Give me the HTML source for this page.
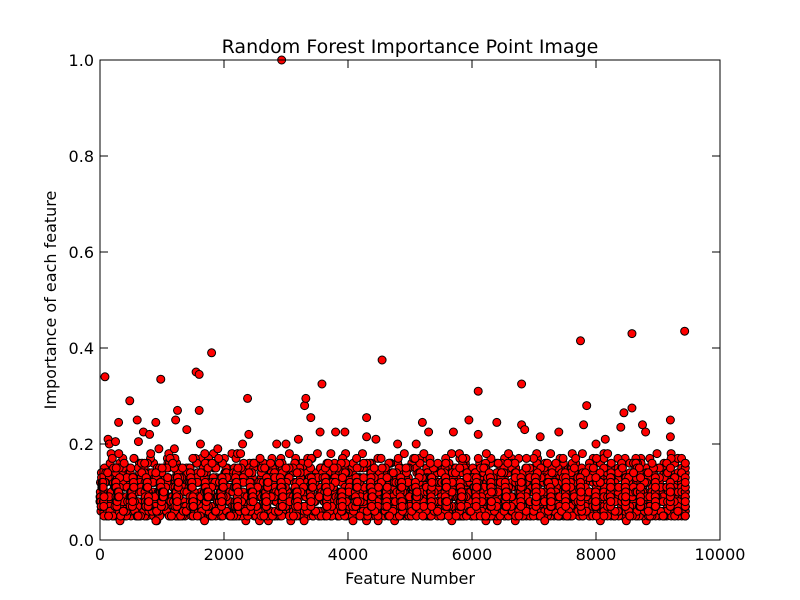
<!DOCTYPE html>
<html><head><meta charset="utf-8"><style>
body{margin:0;background:#fff;}
svg{display:block;font-family:"DejaVu Sans","Liberation Sans",sans-serif;}
</style></head><body>
<svg id="chart" width="800" height="600" xmlns="http://www.w3.org/2000/svg">
<rect x="0" y="0" width="800" height="600" fill="#fff"/>
<text x="410" y="53" text-anchor="middle" font-size="19">Random Forest Importance Point Image</text>
<g id="points"></g>
<g id="axes"></g>
<text x="410" y="584" text-anchor="middle" font-size="16">Feature Number</text>
<text transform="translate(56,300) rotate(-90)" text-anchor="middle" font-size="16">Importance of each feature</text>
</svg>
<script>
const xTicks=[0,2000,4000,6000,8000,10000];
const yTicks=[0.0,0.2,0.4,0.6,0.8,1.0];
const yTickLabels=["0.0","0.2","0.4","0.6","0.8","1.0"];
const outlierX=[80,130,150,250,300,480,600,620,700,800,900,950,980,1200,1250,1220,1400,1550,1600,1600,1620,1800,1900,2300,2380,2400,2930,2850,3000,3200,3300,3320,3400,3550,3580,3800,3950,4300,4300,4450,4550,4800,5100,5200,5300,5700,5950,6100,6100,6400,6800,6800,6850,7100,7400,7750,7800,7850,8000,8150,8400,8450,8580,8580,8750,8800,9200,9200,9430];
const outlierY=[0.34,0.21,0.2,0.205,0.245,0.29,0.25,0.205,0.225,0.22,0.245,0.19,0.335,0.19,0.27,0.25,0.23,0.35,0.345,0.27,0.2,0.39,0.19,0.2,0.295,0.22,1.0,0.2,0.2,0.21,0.28,0.295,0.255,0.225,0.325,0.225,0.225,0.255,0.215,0.21,0.375,0.2,0.2,0.245,0.225,0.225,0.25,0.31,0.22,0.245,0.325,0.24,0.23,0.215,0.225,0.415,0.24,0.28,0.2,0.21,0.235,0.265,0.43,0.275,0.24,0.225,0.25,0.215,0.435];
const bandA=[0.08,0.12,0.06,0.15,0.09,0.11,0.05,0.14,0.07,0.10,0.13,0.06,0.16,0.08,0.12,0.05,0.10,0.14,0.07,0.17,0.09,0.06,0.13,0.11,0.05,0.15,0.08,0.12,0.06,0.10,0.14,0.07,0.18,0.09,0.05,0.12,0.11,0.06,0.15,0.08,0.13,0.05,0.10,0.16,0.07,0.12,0.09,0.06,0.14,0.11,0.05,0.17,0.08,0.13,0.06,0.10,0.15,0.07,0.12,0.09,0.05,0.14,0.11,0.06,0.16,0.08,0.13,0.05,0.10,0.15,0.07,0.12,0.09,0.06,0.18,0.11,0.05,0.14,0.08,0.13,0.06,0.10,0.16,0.07,0.12,0.09,0.05,0.15,0.11,0.06,0.13,0.08,0.17,0.05,0.10,0.14,0.07,0.12,0.09,0.06,0.15,0.11,0.05,0.16,0.08,0.13,0.06,0.10,0.14,0.07,0.12,0.09,0.04,0.15,0.11,0.06,0.17,0.08,0.13,0.05,0.10,0.14,0.07,0.12,0.09,0.06,0.16,0.11,0.05,0.15,0.08,0.13,0.06,0.10,0.14,0.07,0.18,0.09,0.05,0.12,0.11,0.06,0.15,0.08,0.13,0.05,0.10,0.16,0.07,0.12,0.09,0.06,0.14,0.11,0.04,0.17,0.08,0.13,0.06,0.10,0.15,0.07,0.12,0.09,0.05,0.14];
const bandB=[0.10,0.07,0.13,0.05,0.11,0.09,0.15,0.06,0.12,0.08,0.05,0.14,0.10,0.07,0.16,0.06,0.12,0.09,0.13,0.05,0.11,0.15,0.08,0.06,0.14,0.10,0.07,0.17,0.05,0.12,0.09,0.13,0.06,0.11,0.15,0.08,0.05,0.14,0.10,0.07,0.16,0.12,0.06,0.09,0.13,0.05,0.11,0.15,0.08,0.06,0.14,0.10,0.07,0.12,0.05,0.16,0.09,0.13,0.06,0.11,0.15,0.08,0.05,0.14,0.10,0.07,0.18,0.12,0.06,0.09,0.13,0.05,0.11,0.16,0.08,0.06,0.14,0.10,0.07,0.12,0.05,0.15,0.09,0.13,0.06,0.11,0.17,0.08,0.05,0.14,0.10,0.07,0.12,0.06,0.16,0.09,0.13,0.05,0.11,0.15,0.08,0.06,0.14,0.10,0.04,0.12,0.07,0.16,0.09,0.13,0.05,0.11,0.15,0.08,0.06,0.14,0.10,0.07,0.17,0.12,0.05,0.09,0.13,0.06,0.11,0.15,0.08,0.05,0.14,0.10,0.07,0.12,0.06,0.16,0.09,0.13,0.05,0.11,0.15,0.08,0.06,0.14,0.10,0.07,0.12,0.05,0.17,0.09,0.13,0.06,0.11,0.15,0.08,0.05,0.14,0.10,0.07,0.12,0.06];
const bandCore=[0.09,0.11,0.08,0.10,0.12,0.07,0.09,0.11,0.10,0.08,0.12,0.09,0.07,0.11,0.10,0.13,0.08,0.09,0.11,0.07,0.10,0.12,0.08,0.09,0.11,0.10,0.07,0.12,0.09,0.08,0.11,0.10,0.13,0.08,0.09,0.11,0.07,0.10,0.12,0.09];
const maxFeature=9440;
const X0=100,X1=720,Y0=540,Y1=60;
function sx(v){return X0+(v/10000)*(X1-X0);}
function sy(v){return Y0-(v/1.0)*(Y0-Y1);}
const NS="http://www.w3.org/2000/svg";
const pts=document.getElementById('points');
function dot(x,y){
  const c=document.createElementNS(NS,'circle');
  c.setAttribute('cx',sx(x));c.setAttribute('cy',sy(y));c.setAttribute('r',4);
  c.setAttribute('fill','#ff0000');c.setAttribute('stroke','#000');c.setAttribute('stroke-width','1');
  
  
  pts.appendChild(c);
}
function drawBand(arr,offset,shift){
  const n=arr.length;
  for(let i=0;i<n;i++){dot(offset+i*(maxFeature-offset)/(n-1),arr[(i+shift)%n]);}
}
const combos=[[bandA,0,0],[bandB,30,0],[bandA,15,37],[bandB,45,53],[bandA,8,71],[bandB,22,89],[bandA,38,107],[bandB,52,121],[bandA,26,13],[bandB,11,29],[bandA,48,97],[bandB,4,61],[bandA,33,83],[bandB,19,143]];
combos.forEach(c=>drawBand(c[0],c[1],c[2]));
for(let r=0;r<14;r++)drawBand(bandCore,r*5,r*3);
for(let i=0;i<outlierX.length;i++)dot(outlierX[i],outlierY[i]);
const ax=document.getElementById('axes');
const fr=document.createElementNS(NS,'rect');
fr.setAttribute('x',X0);fr.setAttribute('y',Y1);fr.setAttribute('width',X1-X0);fr.setAttribute('height',Y0-Y1);
fr.setAttribute('fill','none');fr.setAttribute('stroke','#000');fr.setAttribute('stroke-width','1');


ax.appendChild(fr);
function line(x1,y1,x2,y2,name){
  const l=document.createElementNS(NS,'line');
  l.setAttribute('x1',x1);l.setAttribute('y1',y1);l.setAttribute('x2',x2);l.setAttribute('y2',y2);
  l.setAttribute('stroke','#000');l.setAttribute('stroke-width','1');
  
  
  ax.appendChild(l);
}
function label(x,y,t,anchor,name){
  const e=document.createElementNS(NS,'text');
  e.setAttribute('x',x);e.setAttribute('y',y);e.setAttribute('text-anchor',anchor);e.setAttribute('font-size','16');
  e.textContent=t;
  
  
  ax.appendChild(e);
}
xTicks.forEach(v=>{const x=sx(v);line(x,Y0,x,Y0-8,'x-tick');line(x,Y1,x,Y1+8,'x-tick-top');label(x,Y0+20,String(v),'middle','x-tick-label');});
yTicks.forEach((v,i)=>{const y=sy(v);line(X0,y,X0+8,y,'y-tick');line(X1,y,X1-8,y,'y-tick-right');label(X0-6,y+6,yTickLabels[i],'end','y-tick-label');});
</script>
</body></html>
